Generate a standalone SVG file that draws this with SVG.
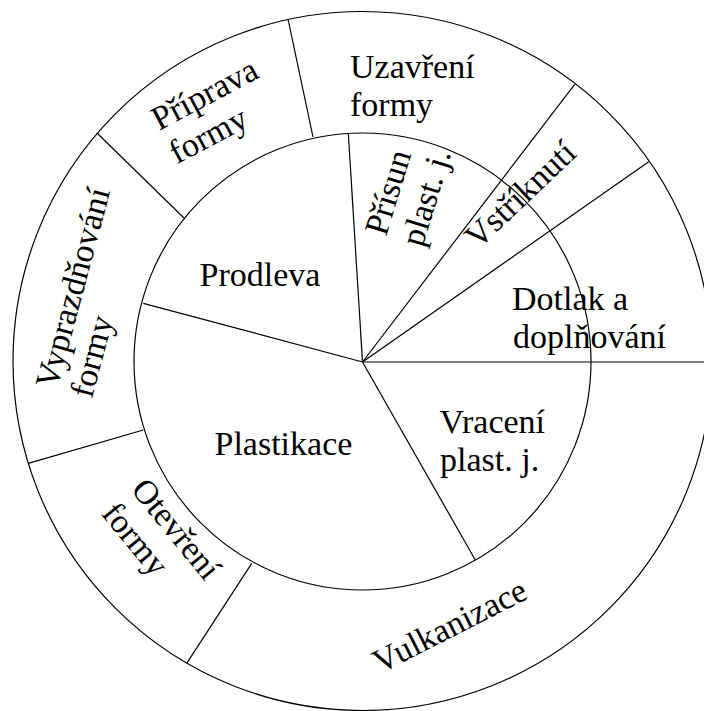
<svg xmlns="http://www.w3.org/2000/svg" width="704" height="711" viewBox="0 0 704 711">
<style>
.ring{fill:none;stroke:#000;stroke-width:1.2}
.ln{stroke:#000;stroke-width:1.2;fill:none}
text{font-family:"Liberation Serif","Times New Roman",serif;font-size:34px;fill:#000}
</style>
<rect width="704" height="711" fill="#fff"/>
<g id="rings">
<circle class="ring" cx="362.5" cy="361" r="349.5"/>
<circle class="ring" cx="362.5" cy="361.5" r="228.5"/>
</g>
<g id="connectors">
<line class="ln" x1="362.5" y1="362" x2="712" y2="362"/>
<line class="ln" x1="362.5" y1="362" x2="475.3" y2="560"/>
<line class="ln" x1="362.5" y1="362" x2="143.3" y2="303.3"/>
<line class="ln" x1="362.5" y1="362" x2="348.3" y2="133.3"/>
<line class="ln" x1="362.5" y1="362" x2="574.7" y2="84.3"/>
<line class="ln" x1="362.5" y1="362" x2="648.7" y2="161.7"/>
<line class="ln" x1="313" y1="137" x2="288" y2="19"/>
<line class="ln" x1="184" y1="218" x2="96.7" y2="132.7"/>
<line class="ln" x1="143.3" y1="430" x2="28.3" y2="463.3"/>
<line class="ln" x1="251.7" y1="563.3" x2="186.7" y2="663.3"/>
</g>
<g id="uzavreni">
<text x="350" y="78">Uzavření</text>
<text x="350" y="116">formy</text>
</g>
<g id="priprava">
<g transform="translate(159,131) rotate(-28)">
<text x="0" y="0">Příprava</text>
<text x="0" y="38">formy</text>
</g>
</g>
<g id="vyprazdnovani">
<g transform="translate(57,390) rotate(-75)">
<text x="0" y="0">Vyprazdňování</text>
<text x="0" y="36">formy</text>
</g>
</g>
<g id="otevreni">
<g transform="translate(130,490) rotate(50.7)">
<text x="0" y="0">Otevření</text>
<text x="0" y="38">formy</text>
</g>
</g>
<g id="vulkanizace">
<text transform="translate(380,674) rotate(-27)" x="0" y="0">Vulkanizace</text>
</g>
<g id="vracani">
<text x="439.5" y="433">Vracení</text>
<text x="440" y="471">plast. j.</text>
</g>
<g id="dotlak">
<text x="512" y="310">Dotlak a</text>
<text x="513" y="348">doplňování</text>
</g>
<g id="vstriknuti">
<text transform="translate(478,250) rotate(-43.5)" x="0" y="0">Vstříknutí</text>
</g>
<g id="prisun">
<g transform="translate(386,237) rotate(-73)">
<text x="0" y="0">Přísun</text>
<text x="0" y="38">plast. j.</text>
</g>
</g>
<g id="prodleva">
<text x="199.5" y="286">Prodleva</text>
</g>
<g id="plastikace">
<text x="214.5" y="455">Plastikace</text>
</g>
</svg>
